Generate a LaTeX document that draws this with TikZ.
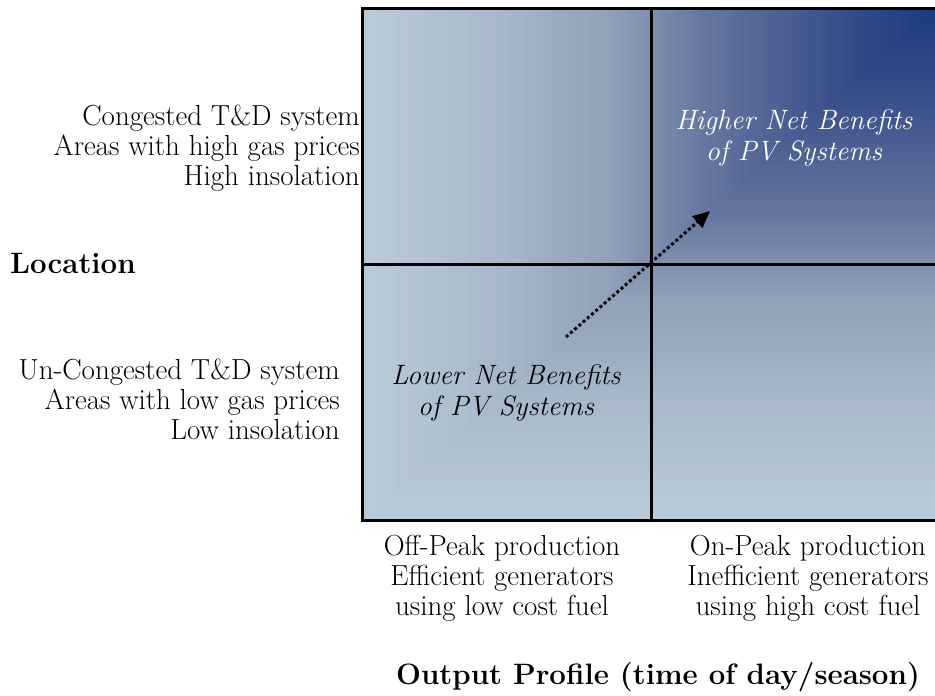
\documentclass[tikz,border=0pt]{standalone}
\usetikzlibrary{arrows.meta}
\definecolor{pvlight}{HTML}{B9CAD8}
\definecolor{pvpale}{HTML}{A8B8CA}
\definecolor{pvsoft}{HTML}{8FA0B8}
\definecolor{pvmid}{HTML}{6676A0}
\definecolor{pvdeep}{HTML}{3D528C}
\definecolor{pvnavy}{HTML}{1A3882}
\tikzset{
  axistext/.style={font=\fontsize{29}{30}\selectfont, inner sep=0pt},
  axistitle/.style={font=\fontsize{29.5}{34}\selectfont\bfseries, inner sep=0pt},
  benefit/.style={font=\fontsize{28}{31.5}\selectfont\itshape, inner sep=0pt, align=center},
  gridline/.style={line width=3pt}
}
\begin{document}
\begin{tikzpicture}[x=1pt,y=-1pt]

% Define dimensions
\def\boxL{362}
\def\boxR{937}
\def\boxT{8}
\def\boxB{520}
\def\midX{651}
\def\midY{264}
\def\boxW{575}
\def\boxH{512}

\useasboundingbox (0,0) rectangle (935,696);

% Shade the box from the top right corner
\foreach \ta/\tb/\ca/\cb in {1.00/0.77/pvlight/pvpale, 0.77/0.57/pvpale/pvsoft, 0.57/0.41/pvsoft/pvmid, 0.41/0.20/pvmid/pvdeep, 0.20/0.00/pvdeep/pvnavy}{
  \foreach \k in {0,...,15}{
    \pgfmathsetmacro\t{\ta-(\ta-\tb)*\k/16}
    \pgfmathtruncatemacro\m{100*\k/16}
    \fill[fill={\cb!\m!\ca}] ({\boxR-\t*\boxW},\boxT) rectangle (\boxR,{\boxT+\t*\boxH});
  }
}

% Draw box and quadrant lines
\draw[gridline] (\boxR,\boxT) -- (\boxL,\boxT) -- (\boxL,\boxB) -- (\boxR,\boxB);
\draw[gridline] (\midX,\boxT) -- (\midX,\boxB);
\draw[gridline] (\boxL,\midY) -- (\boxR,\midY);

% Labels inside the quadrants
\node[benefit, text=white] (high) at (794,138) {Higher Net Benefits\\of PV Systems};
\node[benefit] (low) at (506,393) {Lower Net Benefits\\of PV Systems};

% Dotted arrow from lower to higher benefits
\coordinate (lowend) at (566,337);
\coordinate (highend) at (710,211);
\draw[line width=3pt, dash pattern=on 3pt off 2.6pt, -{Triangle[length=17pt,width=15pt]}] (lowend) -- (highend);

% Label the location side
\node[axistext, anchor=east, align=right] (highloc) at (360,148) {Congested T\&D system\\Areas with high gas prices\\High insolation};
\node[axistitle, anchor=west] (location) at (10,263) {Location};
\node[axistext, anchor=east, align=right] (lowloc) at (340,399) {Un-Congested T\&D system\\Areas with low gas prices\\Low insolation};

% Label the output profile side
\node[axistext, align=center] (offpeak) at (502,578) {Off-Peak production\\Efficient generators\\using low cost fuel};
\node[axistext, align=center] (onpeak) at (808,578) {On-Peak production\\Inefficient generators\\using high cost fuel};
\node[axistitle] (profile) at (658,677) {Output Profile (time of day/season)};
\end{tikzpicture}
\end{document}
